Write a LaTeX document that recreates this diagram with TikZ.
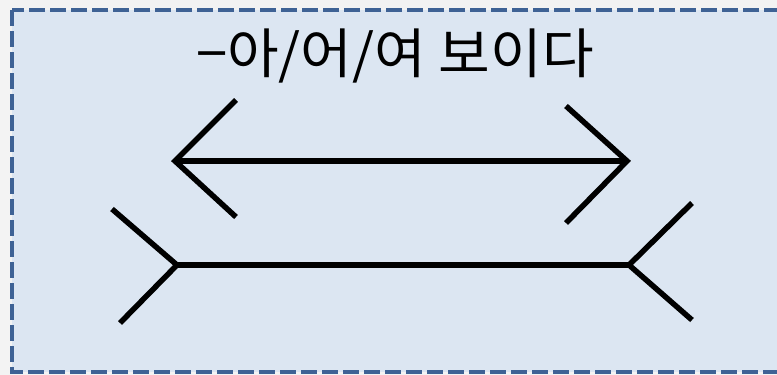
\documentclass[tikz,border=0pt]{standalone}
\usepackage{fontspec}
\newfontfamily\kr{Noto Sans CJK KR}
\definecolor{outbg}{HTML}{F3F3F3}
\definecolor{boxfill}{HTML}{DCE6F2}
\definecolor{boxline}{HTML}{3E6295}
\begin{document}
\begin{tikzpicture}[x=1pt,y=-1pt,
  fig/.style={line width=5.5pt,black},
  frame/.style={draw=boxline,fill=boxfill,line width=4pt,dash pattern=on 16pt off 5pt}]
\useasboundingbox (0,0) rectangle (777,375);
\fill[outbg] (0,0) rectangle (777,375);
\draw[frame] (12,10) rectangle (790,372);
\node[font=\kr\fontsize{54}{64}\selectfont,inner sep=0pt,xscale=1.04] (title) at (395,56) {−아/어/여 보이다};
% top figure
\coordinate (tl) at (175,161);
\coordinate (tr) at (627,161);
\coordinate (tlu) at (236,100);
\coordinate (tld) at (236,217);
\coordinate (tru) at (566,106);
\coordinate (trd) at (566,223);
\draw[fig] (tl) -- (tr);
\draw[fig] (tlu) -- (tl) -- (tld);
\draw[fig] (tru) -- (tr) -- (trd);
% bottom figure
\coordinate (bl) at (177,265);
\coordinate (br) at (629,265);
\coordinate (blu) at (112,209);
\coordinate (bld) at (120,323);
\coordinate (bru) at (692,203);
\coordinate (brd) at (692,320);
\draw[fig] (bl) -- (br);
\draw[fig] (blu) -- (bl) -- (bld);
\draw[fig] (bru) -- (br) -- (brd);
\end{tikzpicture}
\end{document}
